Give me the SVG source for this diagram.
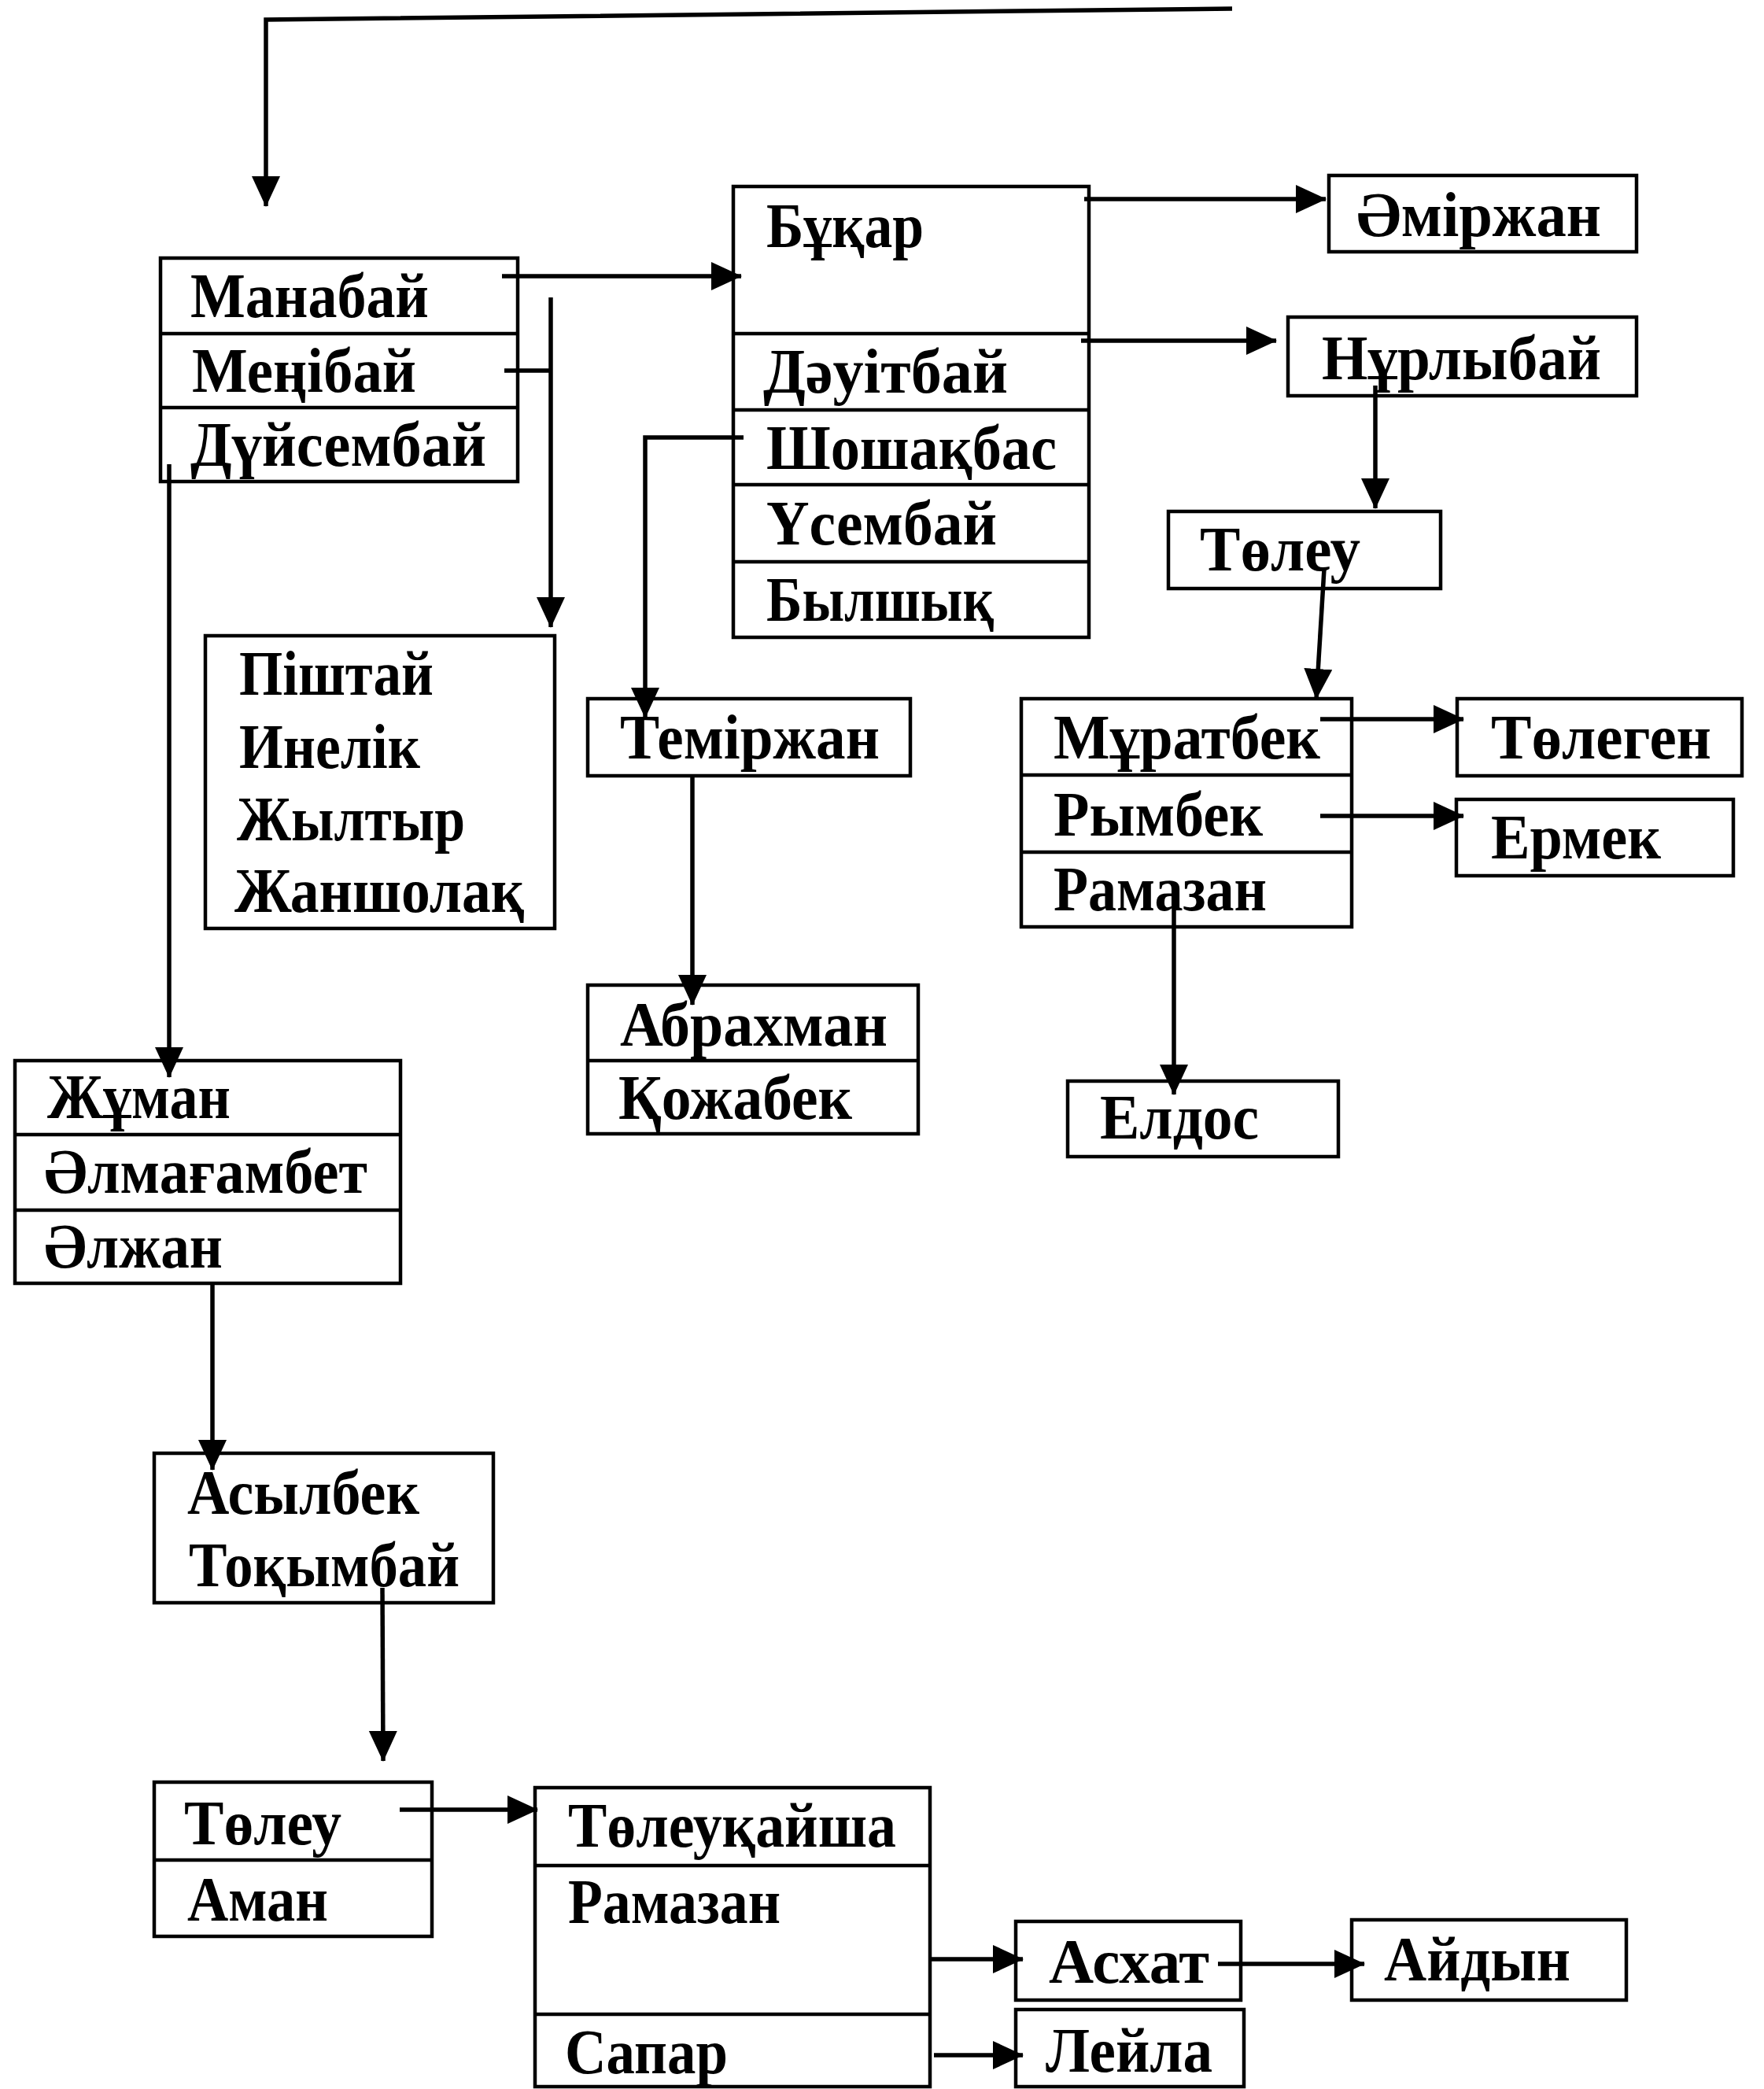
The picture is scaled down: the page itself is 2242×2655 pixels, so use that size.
<svg xmlns="http://www.w3.org/2000/svg" width="2242" height="2655" viewBox="0 0 2242 2655">
<defs>
<marker id="ah" markerUnits="userSpaceOnUse" markerWidth="42" markerHeight="40" refX="38" refY="18" orient="auto">
<path d="M0,0 L39,18 L0,36 Z" fill="#000"/>
</marker>
<style>
.box{fill:#fff;stroke:#000;stroke-width:4.5}
.dv{stroke:#000;stroke-width:4.5;fill:none}
.t{font-family:"Liberation Serif","Times New Roman",serif;font-size:80px;font-weight:bold;fill:#000}
.c{stroke:#000;stroke-width:5.5;fill:none}
.a{stroke:#000;stroke-width:5.5;fill:none;marker-end:url(#ah)}
</style>
</defs>
<rect width="2242" height="2655" fill="#fff"/>

<g id="n-manabay">
<rect class="box" x="204" y="328" width="454" height="284"/>
<path class="dv" d="M204,424 H658 M204,518 H658"/>
<text class="t" x="242" y="403" textLength="303" lengthAdjust="spacingAndGlyphs">Манабай</text>
<text class="t" x="244" y="498" textLength="285" lengthAdjust="spacingAndGlyphs">Меңібай</text>
<text class="t" x="242" y="592" textLength="376" lengthAdjust="spacingAndGlyphs">Дүйсембай</text>
</g>

<g id="n-bukar">
<rect class="box" x="932" y="237" width="452" height="573"/>
<path class="dv" d="M932,424 H1384 M932,521 H1384 M932,616 H1384 M932,714 H1384"/>
<text class="t" x="974" y="314" textLength="200" lengthAdjust="spacingAndGlyphs">Бұқар</text>
<text class="t" x="970" y="499" textLength="311" lengthAdjust="spacingAndGlyphs">Дәуітбай</text>
<text class="t" x="974" y="596" textLength="369" lengthAdjust="spacingAndGlyphs">Шошақбас</text>
<text class="t" x="974" y="692" textLength="293" lengthAdjust="spacingAndGlyphs">Үсембай</text>
<text class="t" x="974" y="789" textLength="289" lengthAdjust="spacingAndGlyphs">Былшық</text>
</g>

<g id="n-amirzhan">
<rect class="box" x="1689" y="223" width="391" height="97"/>
<text class="t" x="1724" y="300" textLength="311" lengthAdjust="spacingAndGlyphs">Әміржан</text>
</g>

<g id="n-nurlybay">
<rect class="box" x="1637" y="403" width="443" height="100"/>
<text class="t" x="1680" y="482" textLength="355" lengthAdjust="spacingAndGlyphs">Нұрлыбай</text>
</g>

<g id="n-toleu1">
<rect class="box" x="1485" y="650" width="346" height="98"/>
<text class="t" x="1525" y="725" textLength="204" lengthAdjust="spacingAndGlyphs">Төлеу</text>
</g>

<g id="n-muratbek">
<rect class="box" x="1298" y="888" width="420" height="290"/>
<path class="dv" d="M1298,985 H1718 M1298,1083 H1718"/>
<text class="t" x="1339" y="964" textLength="339" lengthAdjust="spacingAndGlyphs">Мұратбек</text>
<text class="t" x="1339" y="1062" textLength="266" lengthAdjust="spacingAndGlyphs">Рымбек</text>
<text class="t" x="1339" y="1157" textLength="271" lengthAdjust="spacingAndGlyphs">Рамазан</text>
</g>

<g id="n-tolegen">
<rect class="box" x="1852" y="888" width="362" height="98"/>
<text class="t" x="1895" y="964" textLength="280" lengthAdjust="spacingAndGlyphs">Төлеген</text>
</g>

<g id="n-ermek">
<rect class="box" x="1851" y="1016" width="352" height="97"/>
<text class="t" x="1895" y="1091" textLength="216" lengthAdjust="spacingAndGlyphs">Ермек</text>
</g>

<g id="n-eldos">
<rect class="box" x="1357" y="1374" width="344" height="96"/>
<text class="t" x="1398" y="1447" textLength="202" lengthAdjust="spacingAndGlyphs">Елдос</text>
</g>

<g id="n-temirzhan">
<rect class="box" x="747" y="888" width="410" height="98"/>
<text class="t" x="788" y="964" textLength="330" lengthAdjust="spacingAndGlyphs">Теміржан</text>
</g>

<g id="n-abrakhman">
<rect class="box" x="747" y="1252" width="420" height="189"/>
<path class="dv" d="M747,1348 H1167"/>
<text class="t" x="788" y="1329" textLength="340" lengthAdjust="spacingAndGlyphs">Абрахман</text>
<text class="t" x="786" y="1422" textLength="297" lengthAdjust="spacingAndGlyphs">Қожабек</text>
</g>

<g id="n-pishtay">
<rect class="box" x="261" y="808" width="444" height="372"/>
<text class="t" x="304" y="883" textLength="247" lengthAdjust="spacingAndGlyphs">Піштай</text>
<text class="t" x="304" y="976" textLength="230" lengthAdjust="spacingAndGlyphs">Инелік</text>
<text class="t" x="301" y="1068" textLength="290" lengthAdjust="spacingAndGlyphs">Жылтыр</text>
<text class="t" x="298" y="1159" textLength="368" lengthAdjust="spacingAndGlyphs">Жаншолақ</text>
</g>

<g id="n-zhuman">
<rect class="box" x="19" y="1348" width="490" height="283"/>
<path class="dv" d="M19,1442 H509 M19,1538 H509"/>
<text class="t" x="60" y="1421" textLength="233" lengthAdjust="spacingAndGlyphs">Жұман</text>
<text class="t" x="56" y="1516" textLength="411" lengthAdjust="spacingAndGlyphs">Әлмағамбет</text>
<text class="t" x="56" y="1611" textLength="227" lengthAdjust="spacingAndGlyphs">Әлжан</text>
</g>

<g id="n-asylbek">
<rect class="box" x="196" y="1847" width="431" height="190"/>
<text class="t" x="238" y="1924" textLength="295" lengthAdjust="spacingAndGlyphs">Асылбек</text>
<text class="t" x="240" y="2016" textLength="344" lengthAdjust="spacingAndGlyphs">Тоқымбай</text>
</g>

<g id="n-toleu2">
<rect class="box" x="196" y="2265" width="353" height="196"/>
<path class="dv" d="M196,2364 H549"/>
<text class="t" x="234" y="2344" textLength="200" lengthAdjust="spacingAndGlyphs">Төлеу</text>
<text class="t" x="238" y="2441" textLength="179" lengthAdjust="spacingAndGlyphs">Аман</text>
</g>

<g id="n-toleukaysha">
<rect class="box" x="680" y="2272" width="502" height="380"/>
<path class="dv" d="M680,2371 H1182 M680,2560 H1182"/>
<text class="t" x="722" y="2347" textLength="417" lengthAdjust="spacingAndGlyphs">Төлеуқайша</text>
<text class="t" x="722" y="2444" textLength="270" lengthAdjust="spacingAndGlyphs">Рамазан</text>
<text class="t" x="718" y="2635" textLength="207" lengthAdjust="spacingAndGlyphs">Сапар</text>
</g>

<g id="n-askhat">
<rect class="box" x="1291" y="2442" width="286" height="100"/>
<text class="t" x="1333" y="2520" textLength="204" lengthAdjust="spacingAndGlyphs">Асхат</text>
</g>

<g id="n-aydyn">
<rect class="box" x="1718" y="2440" width="349" height="102"/>
<text class="t" x="1759" y="2517" textLength="237" lengthAdjust="spacingAndGlyphs">Айдын</text>
</g>

<g id="n-leyla">
<rect class="box" x="1291" y="2554" width="290" height="98"/>
<text class="t" x="1329" y="2633" textLength="212" lengthAdjust="spacingAndGlyphs">Лейла</text>
</g>

<g id="connectors">
<polyline class="a" points="1566,11 338,25 338,262"/>
<line class="a" x1="638" y1="351" x2="942" y2="351"/>
<line class="c" x1="641" y1="471" x2="700" y2="471"/>
<line class="a" x1="700" y1="378" x2="700" y2="797"/>
<line class="a" x1="215" y1="590" x2="215" y2="1369"/>
<polyline class="a" points="945,556 820,556 820,912"/>
<line class="a" x1="880" y1="986" x2="880" y2="1277"/>
<line class="a" x1="1378" y1="253" x2="1685" y2="253"/>
<line class="a" x1="1374" y1="433" x2="1622" y2="433"/>
<line class="a" x1="1748" y1="490" x2="1748" y2="646"/>
<line class="a" x1="1683" y1="723" x2="1673" y2="888"/>
<line class="a" x1="1678" y1="914" x2="1860" y2="914"/>
<line class="a" x1="1678" y1="1037" x2="1860" y2="1037"/>
<line class="a" x1="1492" y1="1149" x2="1492" y2="1391"/>
<line class="a" x1="270" y1="1632" x2="270" y2="1868"/>
<line class="a" x1="486" y1="2018" x2="487" y2="2238"/>
<line class="a" x1="508" y1="2300" x2="683" y2="2300"/>
<line class="a" x1="1182" y1="2490" x2="1300" y2="2490"/>
<line class="a" x1="1548" y1="2496" x2="1734" y2="2496"/>
<line class="a" x1="1187" y1="2612" x2="1300" y2="2612"/>
</g>
</svg>
